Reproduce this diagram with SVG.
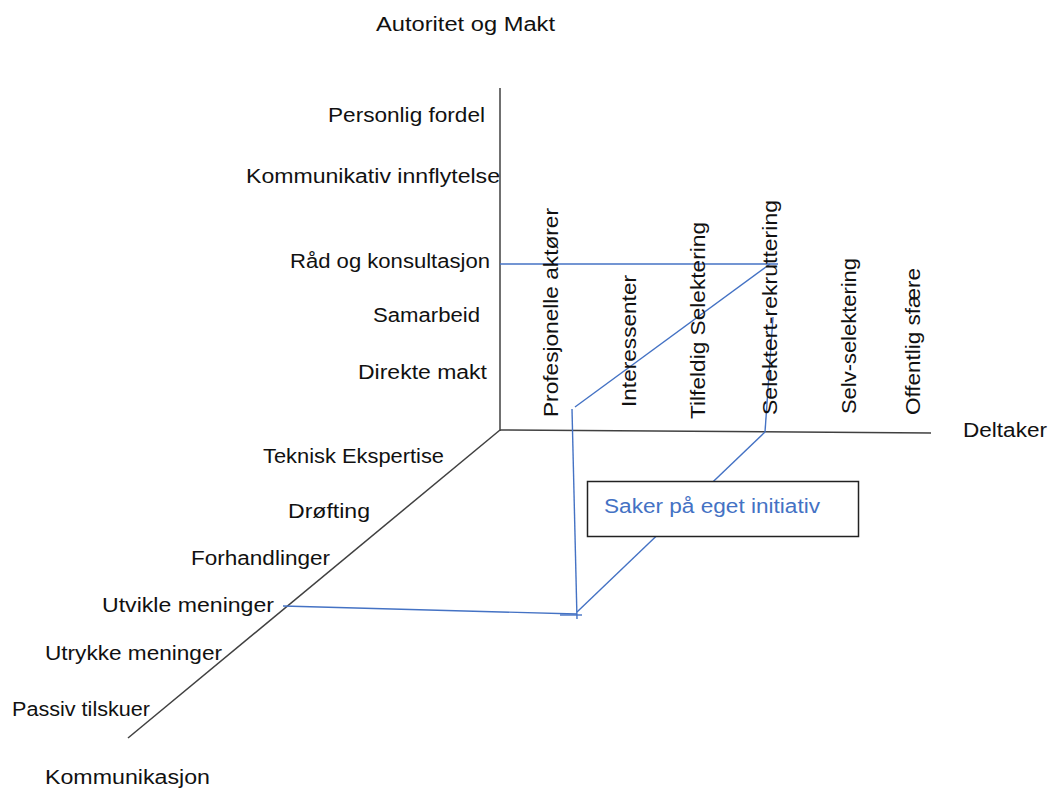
<svg xmlns="http://www.w3.org/2000/svg" width="1051" height="789" viewBox="0 0 1051 789">
<style>
text{font-family:"Liberation Sans",Arial,sans-serif;font-size:20px;fill:#111}
.ax{stroke:#404040;stroke-width:1.5;fill:none}
.bl{stroke:#4472C4;stroke-width:1.4;fill:none}
</style>
<rect width="1051" height="789" fill="#fff"/>
<g id="axes">
<line class="ax" x1="500" y1="88" x2="500" y2="431"/>
<line class="ax" x1="500" y1="430" x2="931" y2="433"/>
<line class="ax" x1="500" y1="430" x2="128" y2="738"/>
</g>
<g id="connectors">
<line class="bl" x1="500" y1="264" x2="778" y2="264"/>
<line class="bl" x1="575" y1="407" x2="770" y2="264"/>
<line class="bl" x1="572" y1="409" x2="577" y2="619"/>
<line class="bl" x1="773" y1="317" x2="765" y2="432"/>
<line class="bl" x1="765" y1="432" x2="577" y2="612"/>
<line class="bl" x1="283" y1="606" x2="577" y2="614"/>
<line class="bl" x1="560" y1="615" x2="582" y2="615"/>
</g>
<g id="box">
<rect x="587.5" y="481.5" width="271" height="55" fill="#fff" stroke="#222" stroke-width="1.5"/>
<text x="604" y="513" textLength="216" lengthAdjust="spacingAndGlyphs" style="fill:#4472C4">Saker på eget initiativ</text>
</g>
<g id="axis-titles">
<text x="376" y="31" textLength="179" lengthAdjust="spacingAndGlyphs">Autoritet og Makt</text>
<text x="963" y="437" textLength="84" lengthAdjust="spacingAndGlyphs">Deltaker</text>
<text x="45" y="784" textLength="165" lengthAdjust="spacingAndGlyphs">Kommunikasjon</text>
</g>
<g id="vertical-labels">
<text x="328" y="122" textLength="157" lengthAdjust="spacingAndGlyphs">Personlig fordel</text>
<text x="246" y="183" textLength="254" lengthAdjust="spacingAndGlyphs">Kommunikativ innflytelse</text>
<text x="290" y="268" textLength="200" lengthAdjust="spacingAndGlyphs">Råd og konsultasjon</text>
<text x="373" y="322" textLength="107" lengthAdjust="spacingAndGlyphs">Samarbeid</text>
<text x="358" y="379" textLength="129" lengthAdjust="spacingAndGlyphs">Direkte makt</text>
</g>
<g id="diagonal-labels">
<text x="263" y="463" textLength="181" lengthAdjust="spacingAndGlyphs">Teknisk Ekspertise</text>
<text x="288" y="518" textLength="82" lengthAdjust="spacingAndGlyphs">Drøfting</text>
<text x="191" y="565" textLength="139" lengthAdjust="spacingAndGlyphs">Forhandlinger</text>
<text x="102" y="612" textLength="172" lengthAdjust="spacingAndGlyphs">Utvikle meninger</text>
<text x="45" y="660" textLength="177" lengthAdjust="spacingAndGlyphs">Utrykke meninger</text>
<text x="12" y="716" textLength="138" lengthAdjust="spacingAndGlyphs">Passiv tilskuer</text>
</g>
<g id="horizontal-labels">
<text transform="translate(558,417) rotate(-90)" textLength="209" lengthAdjust="spacingAndGlyphs">Profesjonelle aktører</text>
<text transform="translate(636,407) rotate(-90)" textLength="132" lengthAdjust="spacingAndGlyphs">Interessenter</text>
<text transform="translate(705,419) rotate(-90)" textLength="197" lengthAdjust="spacingAndGlyphs">Tilfeldig Selektering</text>
<text transform="translate(777,415) rotate(-90)" textLength="215" lengthAdjust="spacingAndGlyphs">Selektert-rekruttering</text>
<text transform="translate(856,414) rotate(-90)" textLength="156" lengthAdjust="spacingAndGlyphs">Selv-selektering</text>
<text transform="translate(920,415) rotate(-90)" textLength="147" lengthAdjust="spacingAndGlyphs">Offentlig sfære</text>
</g>
</svg>
